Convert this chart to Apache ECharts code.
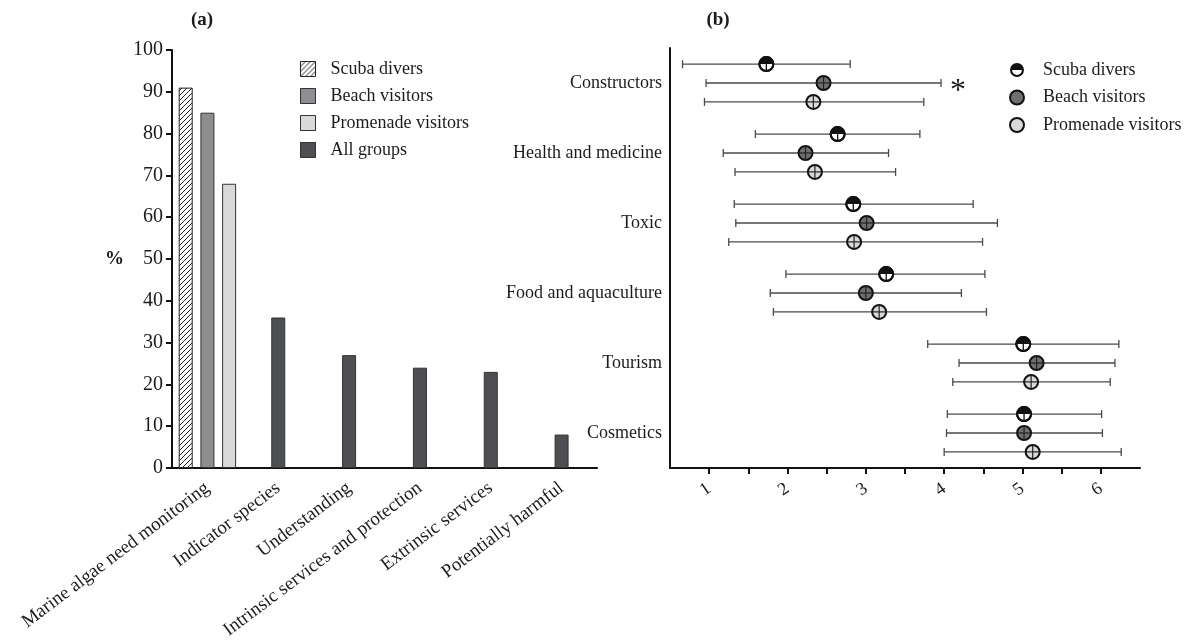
<!DOCTYPE html>
<html>
<head>
<meta charset="utf-8">
<script src="https://cdn.jsdelivr.net/npm/echarts@6/dist/echarts.min.js"></script>
<style>
  html, body { margin: 0; padding: 0; background: #fff; }
  #chart { width: 1200px; height: 643px; }
</style>
</head>
<body>
<div id="chart"></div>
<script>
// ---- Panel (a): share of respondents per statement (%) ----
const barCategories = [
  'Marine algae need monitoring',
  'Indicator species',
  'Understanding',
  'Intrinsic services and protection',
  'Extrinsic services',
  'Potentially harmful'
];
const scubaPct = [91, null, null, null, null, null];
const beachPct = [85, null, null, null, null, null];
const promenadePct = [68, null, null, null, null, null];
const allGroupsPct = [null, 36, 27, 24, 23, 8];
const pctMin = 0, pctMax = 100, pctStep = 10;

// ---- Panel (b): mean score with spread per use ----
const uses = ['Constructors', 'Health and medicine', 'Toxic', 'Food and aquaculture', 'Tourism', 'Cosmetics'];
const scubaMean = [1.73, 2.64, 2.84, 3.26, 5.01, 5.02];
const scubaLow  = [0.66, 1.59, 1.32, 1.98, 3.79, 4.04];
const scubaHigh = [2.80, 3.69, 4.37, 4.52, 6.23, 6.01];
const beachMean = [2.46, 2.23, 3.01, 3.00, 5.18, 5.02];
const beachLow  = [0.96, 1.18, 1.34, 1.78, 4.19, 4.03];
const beachHigh = [3.96, 3.29, 4.68, 4.22, 6.18, 6.02];
const promMean  = [2.33, 2.35, 2.85, 3.17, 5.11, 5.13];
const promLow   = [0.94, 1.33, 1.25, 1.82, 4.11, 4.00];
const promHigh  = [3.74, 3.38, 4.49, 4.54, 6.12, 6.26];
const beachSignif = ['*', '', '', '', '', ''];
const scoreTicks = [1, 1.5, 2, 2.5, 3, 3.5, 4, 4.5, 5, 5.5, 6];
const scoreLabels = [1, 2, 3, 4, 5, 6];
const scoreMin = 0.5, scoreMax = 6.5;

const SERIF = '"Liberation Serif", "DejaVu Serif", serif';
const INK = '#1c1c1c';

// diagonal hatch used for the scuba-diver bar
function makeHatch() {
  const c = document.createElement('canvas');
  c.width = 5; c.height = 5;
  const g = c.getContext('2d');
  g.fillStyle = '#fff';
  g.fillRect(0, 0, 5, 5);
  g.strokeStyle = '#222';
  g.lineWidth = 1;
  g.beginPath();
  g.moveTo(-1, 6); g.lineTo(6, -1);
  g.moveTo(-1, 1); g.lineTo(1, -1);
  g.moveTo(4, 6); g.lineTo(6, 4);
  g.stroke();
  return { image: c, repeat: 'repeat' };
}
const hatch = makeHatch();

const BEACH_FILL = '#8e8e92';
const PROM_FILL = '#d9d9db';
const ALL_FILL = '#4e4f52';

// error-bar rows: offset of each group inside its category band
function makeRenderer(low, mean, high, kind, offsetFrac, marks) {
  return function (params, api) {
    const i = params.dataIndex;
    const cat = api.value(3);
    const pm = api.coord([mean[i], cat]);
    const band = api.size([0, 1])[1];
    const y = pm[1] + offsetFrac * band;
    const xl = api.coord([low[i], cat])[0];
    const xh = api.coord([high[i], cat])[0];
    const xm = pm[0];
    const r = 7;
    const lineStyle = { stroke: '#4a4a4a', lineWidth: 1.3 };
    const children = [
      { type: 'line', shape: { x1: xl, y1: y, x2: xh, y2: y }, style: lineStyle },
      { type: 'line', shape: { x1: xl, y1: y - 4, x2: xl, y2: y + 4 }, style: lineStyle },
      { type: 'line', shape: { x1: xh, y1: y - 4, x2: xh, y2: y + 4 }, style: lineStyle }
    ];
    if (kind === 'half') {
      children.push(
        { type: 'circle', shape: { cx: xm, cy: y, r: r }, style: { fill: '#fff', stroke: '#111', lineWidth: 2 } },
        { type: 'sector', shape: { cx: xm, cy: y, r0: 0, r: r, startAngle: Math.PI, endAngle: 2 * Math.PI, clockwise: true }, style: { fill: '#111' } },
        { type: 'line', shape: { x1: xm, y1: y, x2: xm, y2: y + r }, style: { stroke: '#111', lineWidth: 1.3 } },
        { type: 'circle', shape: { cx: xm, cy: y, r: r }, style: { fill: null, stroke: '#111', lineWidth: 2 } }
      );
    } else {
      children.push(
        { type: 'circle', shape: { cx: xm, cy: y, r: r }, style: { fill: kind, stroke: '#111', lineWidth: 2 } },
        { type: 'line', shape: { x1: xm - r, y1: y, x2: xm + r, y2: y }, style: { stroke: '#222', lineWidth: 1.2 } },
        { type: 'line', shape: { x1: xm, y1: y - r, x2: xm, y2: y + r }, style: { stroke: '#222', lineWidth: 1.2 } }
      );
    }
    if (marks && marks[i]) {
      children.push({
        type: 'text',
        style: { x: xh + 17, y: y + 9, text: marks[i], fill: INK, font: '32px ' + SERIF, align: 'center', verticalAlign: 'middle' }
      });
    }
    return { type: 'group', children: children };
  };
}

function rows(low, mean, high) {
  return mean.map((m, i) => [low[i], m, high[i], i]);
}

const halfIcon = 'path://M0,-10A10,10 0 1,1 0,10A10,10 0 1,1 0,-10ZM-7,0A7,7 0 0,0 7,0Z';

const chart = echarts.init(document.getElementById('chart'), null, { renderer: 'canvas' });

chart.setOption({
  animation: false,
  backgroundColor: '#fff',
  textStyle: { fontFamily: SERIF, color: INK },
  title: [
    { text: '(a)', left: 197, top: 6, textAlign: 'center',
      textStyle: { fontFamily: SERIF, fontWeight: 'bold', fontSize: 19, color: INK } },
    { text: '(b)', left: 713, top: 6, textAlign: 'center',
      textStyle: { fontFamily: SERIF, fontWeight: 'bold', fontSize: 19, color: INK } }
  ],
  legend: [
    {
      orient: 'vertical', left: 295, top: 55, itemWidth: 15, itemHeight: 15, itemGap: 9,
      textStyle: { fontFamily: SERIF, fontSize: 18, color: INK, padding: [0, 0, 0, 10] },
      selectedMode: false,
      data: [
        { name: 'Scuba divers', icon: 'rect', itemStyle: { color: hatch, borderColor: '#222', borderWidth: 1 } },
        { name: 'Beach visitors', icon: 'rect', itemStyle: { color: BEACH_FILL, borderColor: '#333', borderWidth: 1 } },
        { name: 'Promenade visitors', icon: 'rect', itemStyle: { color: PROM_FILL, borderColor: '#333', borderWidth: 1 } },
        { name: 'All groups', icon: 'rect', itemStyle: { color: ALL_FILL, borderColor: '#333', borderWidth: 1 } }
      ]
    },
    {
      orient: 'vertical', left: 1004, top: 56, itemWidth: 14, itemHeight: 14, itemGap: 9.5,
      textStyle: { fontFamily: SERIF, fontSize: 18, color: INK, padding: [0, 0, 0, 14] },
      selectedMode: false,
      data: [
        { name: 'Scuba divers', icon: halfIcon, itemStyle: { color: '#111', borderWidth: 0 } },
        { name: 'Beach visitors', icon: 'circle', itemStyle: { color: '#6f6f72', borderColor: '#111', borderWidth: 2 } },
        { name: 'Promenade visitors', icon: 'circle', itemStyle: { color: PROM_FILL, borderColor: '#111', borderWidth: 2 } }
      ]
    }
  ],
  grid: [
    { left: 172, top: 50, width: 425, height: 418 },
    { left: 670, top: 48, width: 470, height: 420 }
  ],
  xAxis: [
    {
      gridIndex: 0, type: 'category', data: barCategories,
      axisLine: { lineStyle: { color: '#111', width: 2 } },
      axisTick: { alignWithLabel: true, length: 6, lineStyle: { color: '#111', width: 2 } },
      axisLabel: { interval: 0, rotate: 37, margin: 18, fontFamily: SERIF, fontSize: 19, color: INK }
    },
    {
      gridIndex: 1, type: 'value', min: scoreMin, max: scoreMax, interval: 0.5,
      splitLine: { show: false },
      axisLine: { show: true, lineStyle: { color: '#111', width: 2 } },
      axisTick: { show: true, length: 6, customValues: scoreTicks, lineStyle: { color: '#111', width: 2 } },
      axisLabel: { customValues: scoreLabels, rotate: 35, margin: 19, fontFamily: SERIF, fontSize: 18, color: INK }
    }
  ],
  yAxis: [
    {
      gridIndex: 0, type: 'value', min: pctMin, max: pctMax, interval: pctStep,
      name: '%', nameLocation: 'middle', nameRotate: 0, nameGap: 48,
      nameTextStyle: { fontFamily: SERIF, fontWeight: 'bold', fontSize: 19, color: INK },
      splitLine: { show: false },
      axisLine: { show: true, lineStyle: { color: '#111', width: 2 } },
      axisTick: { show: true, length: 6, lineStyle: { color: '#111', width: 2 } },
      axisLabel: { margin: 9, fontFamily: SERIF, fontSize: 20, color: INK }
    },
    {
      gridIndex: 1, type: 'category', data: uses, inverse: true,
      axisLine: { lineStyle: { color: '#111', width: 2 } },
      axisTick: { alignWithLabel: true, length: 6, lineStyle: { color: '#111', width: 2 } },
      axisLabel: { margin: 8, fontFamily: SERIF, fontSize: 18, color: INK }
    }
  ],
  series: [
    {
      name: 'Scuba divers', type: 'bar', xAxisIndex: 0, yAxisIndex: 0,
      data: scubaPct, barWidth: 14, barGap: '55%',
      itemStyle: { color: hatch, borderColor: '#222', borderWidth: 1 }
    },
    {
      name: 'Beach visitors', type: 'bar', xAxisIndex: 0, yAxisIndex: 0, stack: 'mid',
      data: beachPct, barWidth: 14,
      itemStyle: { color: BEACH_FILL, borderColor: '#333', borderWidth: 1 }
    },
    {
      name: 'All groups', type: 'bar', xAxisIndex: 0, yAxisIndex: 0, stack: 'mid',
      data: allGroupsPct, barWidth: 14,
      itemStyle: { color: ALL_FILL, borderColor: '#333', borderWidth: 1 }
    },
    {
      name: 'Promenade visitors', type: 'bar', xAxisIndex: 0, yAxisIndex: 0,
      data: promenadePct, barWidth: 14,
      itemStyle: { color: PROM_FILL, borderColor: '#333', borderWidth: 1 }
    },
    {
      name: 'Scuba divers', type: 'custom', xAxisIndex: 1, yAxisIndex: 1,
      data: rows(scubaLow, scubaMean, scubaHigh), encode: { x: [0, 1, 2], y: 3 },
      renderItem: makeRenderer(scubaLow, scubaMean, scubaHigh, 'half', -0.27, null)
    },
    {
      name: 'Beach visitors', type: 'custom', xAxisIndex: 1, yAxisIndex: 1,
      data: rows(beachLow, beachMean, beachHigh), encode: { x: [0, 1, 2], y: 3 },
      renderItem: makeRenderer(beachLow, beachMean, beachHigh, '#6f6f72', 0, beachSignif)
    },
    {
      name: 'Promenade visitors', type: 'custom', xAxisIndex: 1, yAxisIndex: 1,
      data: rows(promLow, promMean, promHigh), encode: { x: [0, 1, 2], y: 3 },
      renderItem: makeRenderer(promLow, promMean, promHigh, PROM_FILL, 0.27, null)
    }
  ]
});
</script>
</body>
</html>
